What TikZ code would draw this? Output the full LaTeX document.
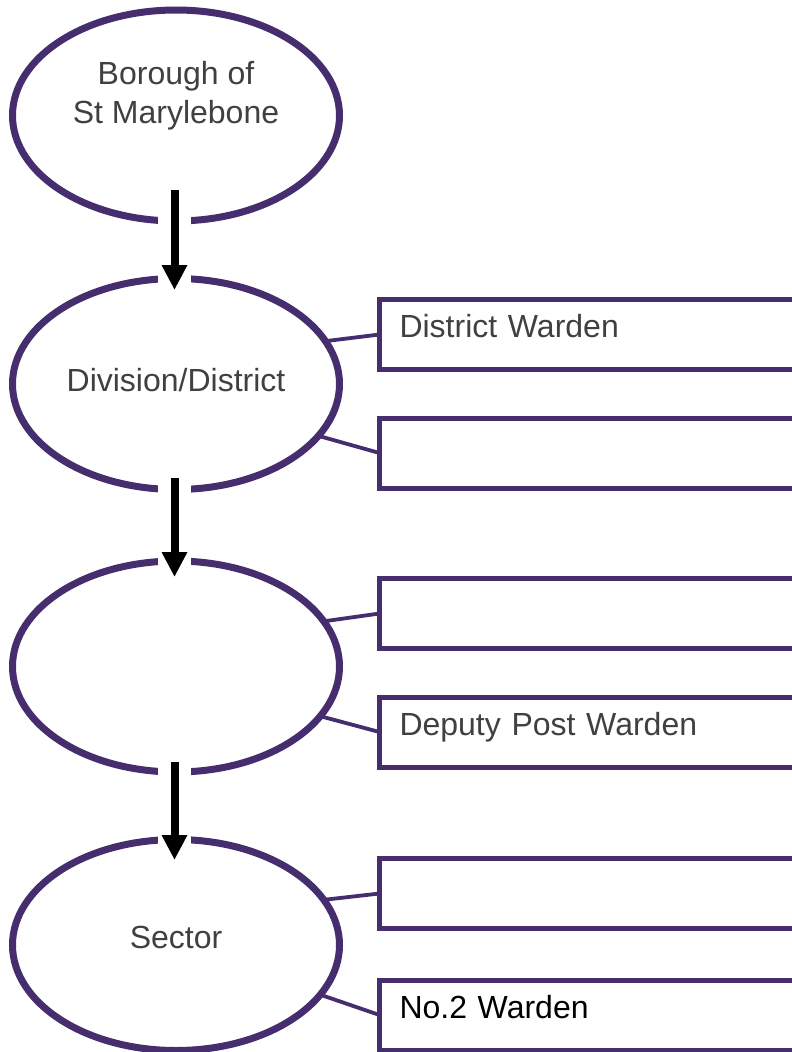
\documentclass[tikz,border=0pt]{standalone}
\usepackage{fontspec}
\setmainfont{Liberation Sans}
\usetikzlibrary{shapes.geometric,arrows.meta,calc}
\definecolor{wardpurple}{HTML}{452D6E}
\definecolor{wardgrey}{HTML}{404040}

\begin{document}
\begin{tikzpicture}[x=1pt, y=-1pt,
  every node/.style={font=\fontsize{32}{39}\selectfont, text=wardgrey},
  tier/.style={draw=wardpurple, line width=7pt, ellipse, minimum width=327pt, minimum height=211pt, inner sep=0pt, outer sep=0pt, align=center, text height=23pt, text depth=8pt},
  role/.style={draw=wardpurple, line width=5pt, anchor=west, minimum height=70pt, inner xsep=20pt, inner ysep=0pt, outer sep=0pt, text width=400pt, align=left, text height=22pt, text depth=16pt},
  link/.style={draw=wardpurple, line width=3.8pt},
  halo/.style={white, line width=33pt},
  down/.style={black, line width=8pt, -{Triangle[width=24pt,length=25pt]}}]
  \useasboundingbox (0,0) rectangle (792,1052);
  \clip (0,0) rectangle (792,1052);

  \node[tier] at (176,115.5) (bor) {Borough of\\St Marylebone};
  \node[tier] at (176,384) (div) {Division/District};
  \node[tier] at (176,666.5) (post) {};
  \node[tier, text depth=16pt] at (176,945) (sec) {Sector};

  \node[role] at (379.5,334.5) (dw) {District Warden};
  \node[role] at (379.5,453) (dx) {};
  \node[role] at (379.5,613.5) (pw) {};
  \node[role] at (379.5,732) (dpw) {Deputy Post Warden};
  \node[role] at (379.5,893.5) (sw) {};
  \node[role, text=black] at (379.5,1015) (nw) {No.2 Warden};

  \draw[link] (div.16) -- (dw.west);
  \draw[link] (div.-20) -- (dx.west);
  \draw[link] (post.17) -- (pw.west);
  \draw[link] (post.-19) -- (dpw.west);
  \draw[link] (sec.17) -- (sw.west);
  \draw[link] (sec.-19) -- (nw.west);

  % arrows with a white gap where they cross the rings
  \draw[halo] ($(bor.south)+(-1.5,-31)$) -- ($(div.north)+(-1.5,11.5)$);
  \draw[down] ($(bor.south)+(-1.5,-31)$) -- ($(div.north)+(-1.5,11.5)$);
  \draw[halo] ($(div.south)+(-1.5,-11.5)$) -- ($(post.north)+(-1.5,16)$);
  \draw[down] ($(div.south)+(-1.5,-11.5)$) -- ($(post.north)+(-1.5,16)$);
  \draw[halo] ($(post.south)+(-1.5,-10)$) -- ($(sec.north)+(-1.5,20.5)$);
  \draw[down] ($(post.south)+(-1.5,-10)$) -- ($(sec.north)+(-1.5,20.5)$);
\end{tikzpicture}
\end{document}
